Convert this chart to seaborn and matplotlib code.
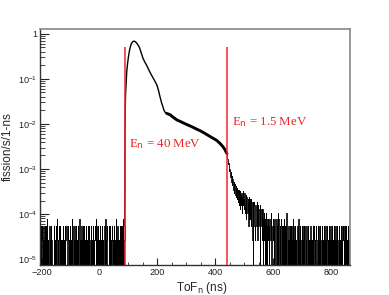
import numpy as np
import pandas as pd
import seaborn as sns
import matplotlib
matplotlib.use("Agg")
import matplotlib.pyplot as plt
from matplotlib.ticker import LogLocator, FixedLocator, MultipleLocator, NullFormatter

# one count in a 1-ns bin, in fission/s
unit_rate = 2.65e-5

# background counts, one digit per 1-ns bin, starting at -205 ns
left_start = -205
left_counts = (
    "1021011201" "0120102110" "2101031010" "0112010201" "1000000012"
    "0101201031" "1010021101" "2011010120" "0101102011" "1200000210"
    "0110201013" "1021100102" "0110120101" "2010113010" "1102010210"
    "0120101102" "1011020110" "2100000201" "0102011012" "1130101021"
    "0201101201" "1010210110" "0120103101" "2000000210" "1020110120"
    "0110201101" "1203010211" "0101120102" "1021010311" "012"
)

# main peak (ns, fission/s/1-ns)
peak_tof = [88, 89, 90, 92, 94, 97, 100, 104, 108, 112, 116, 120, 124, 128,
            132, 138, 144, 150, 156, 163, 170, 180, 189, 198, 204, 209, 214,
            219, 223, 227, 232]
peak_rate = [0.004, 0.02, 0.045, 0.08, 0.14, 0.22, 0.31, 0.44, 0.56, 0.64,
             0.68, 0.69, 0.67, 0.63, 0.58, 0.5, 0.38, 0.29, 0.24, 0.2, 0.16,
             0.12, 0.095, 0.074, 0.055, 0.04, 0.03, 0.024, 0.02, 0.018, 0.0172]

# slow tail between the knee and the 1.5 MeV line
tail_tof = [232, 244, 255, 267, 280, 290, 305, 320, 335, 347, 360, 381, 395,
            405, 416, 425, 433, 440]
tail_rate = [0.0172, 0.016, 0.014, 0.0123, 0.0113, 0.0105, 0.0095, 0.0086,
             0.0077, 0.0071, 0.0064, 0.0053, 0.0047, 0.0043, 0.0037, 0.0032,
             0.0027, 0.0022]

# fall-off after 1.5 MeV, counts per 1-ns bin from 440 ns
drop_start = 440
drop_counts = [
    84, 70, 62, 60, 48, 52, 40, 45, 34, 38,
    30, 36, 25, 32, 22, 28, 19, 26, 17, 23,
    20, 14, 22, 13, 19, 11, 17, 12, 18, 10,
    15, 9, 16, 11, 8, 14, 10, 13, 7, 12,
    9, 13, 6, 11, 8, 12, 5, 10, 9, 6,
    11, 7, 10, 4, 9, 12, 6, 8, 5, 10,
    7, 11, 4, 8, 6, 10, 3, 9, 7, 5,
    9, 4, 8, 6, 2, 9, 5, 7, 3, 8,
    6, 3, 8, 5, 2, 7, 4, 6, 1, 7,
    5, 0, 6, 3, 7, 2, 5, 4, 1, 6,
    3, 5, 2, 7, 4, 1, 5, 3, 6, 2,
    4, 2, 5, 3, 0, 6, 2, 4, 3, 5,
    2, 4, 1, 5, 0, 3, 2, 4, 1, 3,
    2, 0, 3, 2, 4, 0, 3, 1, 3, 0,
]

# background after the fall-off, from 580 ns
right_start = 580
right_counts = (
    "2132120312" "1241021213" "2120312102" "1302141031" "2011203120"
    "1210213012" "0212104120" "1021011201" "0120102310" "2101021010"
    "0112010301" "1020110012" "0101201021" "1010021101" "2011010120"
    "0101102011" "1200101210" "0110201012" "1021100102" "0110120101"
    "2010112010" "1102010210" "0120101102" "1011020110" "2100110201"
    "0102011012" "1120101021" "0201101201" "1010210110"
)

line_tof = [88.6, 439]
line_top = 0.5
line_labels = ["E$_{\\rm n}$ = 40 MeV", "E$_{\\rm n}$ = 1.5 MeV"]
label_pos = [(103, 0.0031), (456, 0.0095)]

ytick_vals = [1e-5, 1e-4, 1e-3, 1e-2, 1e-1, 1]
ytick_labels = ["10$^{-5}$", "10$^{-4}$", "10$^{-3}$", "10$^{-2}$", "10$^{-1}$", "1"]


def counts_frame(start, counts):
    c = np.array([int(v) for v in counts], dtype=float)
    return pd.DataFrame({"tof": start + np.arange(len(c)), "rate": c * unit_rate})


left = counts_frame(left_start, left_counts)
drop = counts_frame(drop_start, drop_counts)
right = counts_frame(right_start, right_counts)
back = pd.concat([drop, right], ignore_index=True)

sns.set_style("ticks")
plt.rcParams["font.family"] = ["Liberation Sans", "DejaVu Sans"]
plt.rcParams["mathtext.default"] = "regular"

fig = plt.figure(figsize=(3.89, 2.95), dpi=100)
ax = fig.add_axes([0.103, 0.1017, 0.797, 0.8003])

sns.lineplot(data=left, x="tof", y="rate", ax=ax, color="black", lw=0.6,
             drawstyle="steps-mid", estimator=None)
sns.lineplot(data=back, x="tof", y="rate", ax=ax, color="black", lw=0.6,
             drawstyle="steps-mid", estimator=None)
sns.lineplot(x=[left["tof"].iloc[-1]] + peak_tof, y=[left["rate"].iloc[-1]] + peak_rate,
             ax=ax, color="black", lw=1.0, estimator=None, sort=False)
sns.lineplot(x=tail_tof, y=tail_rate, ax=ax, color="black", lw=2.1,
             estimator=None, sort=False)

ax.set_yscale("log", nonpositive="clip")
ax.set_xlim(-205, 865)
ax.set_ylim(7.4e-6, 1.29)

ax.vlines(line_tof, 7.4e-6, line_top, color="#f02424", lw=1.1, zorder=5)
for txt, (x, y) in zip(line_labels, label_pos):
    ax.text(x, y, txt, color="#f02424", fontsize=9.3, va="baseline",
            family=["Liberation Serif", "DejaVu Serif"])

ax.xaxis.set_major_locator(MultipleLocator(200))
ax.xaxis.set_minor_locator(MultipleLocator(50))
ax.yaxis.set_major_locator(FixedLocator(ytick_vals))
ax.set_yticklabels(ytick_labels)
ax.yaxis.set_minor_locator(LogLocator(base=10, subs=np.arange(2, 10)))
ax.yaxis.set_minor_formatter(NullFormatter())

ax.tick_params(axis="both", which="both", direction="in", labelsize=6.6, colors="#222")
ax.tick_params(axis="x", which="major", length=5, pad=2)
ax.tick_params(axis="x", which="minor", length=2.5)
ax.tick_params(axis="y", which="major", length=6.5, pad=2)
ax.tick_params(axis="y", which="minor", length=3.5)

for side in ["left", "bottom"]:
    ax.spines[side].set_color("#333")
    ax.spines[side].set_linewidth(1.0)
for side in ["top", "right"]:
    ax.spines[side].set_color("#888")
    ax.spines[side].set_linewidth(1.2)

ax.set_xlabel("ToF$_{\\rm n}$ (ns)", fontsize=8.5)
ax.set_ylabel("fission/s/1-ns", fontsize=8.5)
ax.xaxis.set_label_coords(0.52, -0.064)
ax.yaxis.set_label_coords(-0.085, 0.5)

fig.savefig("out.png", dpi=100)
